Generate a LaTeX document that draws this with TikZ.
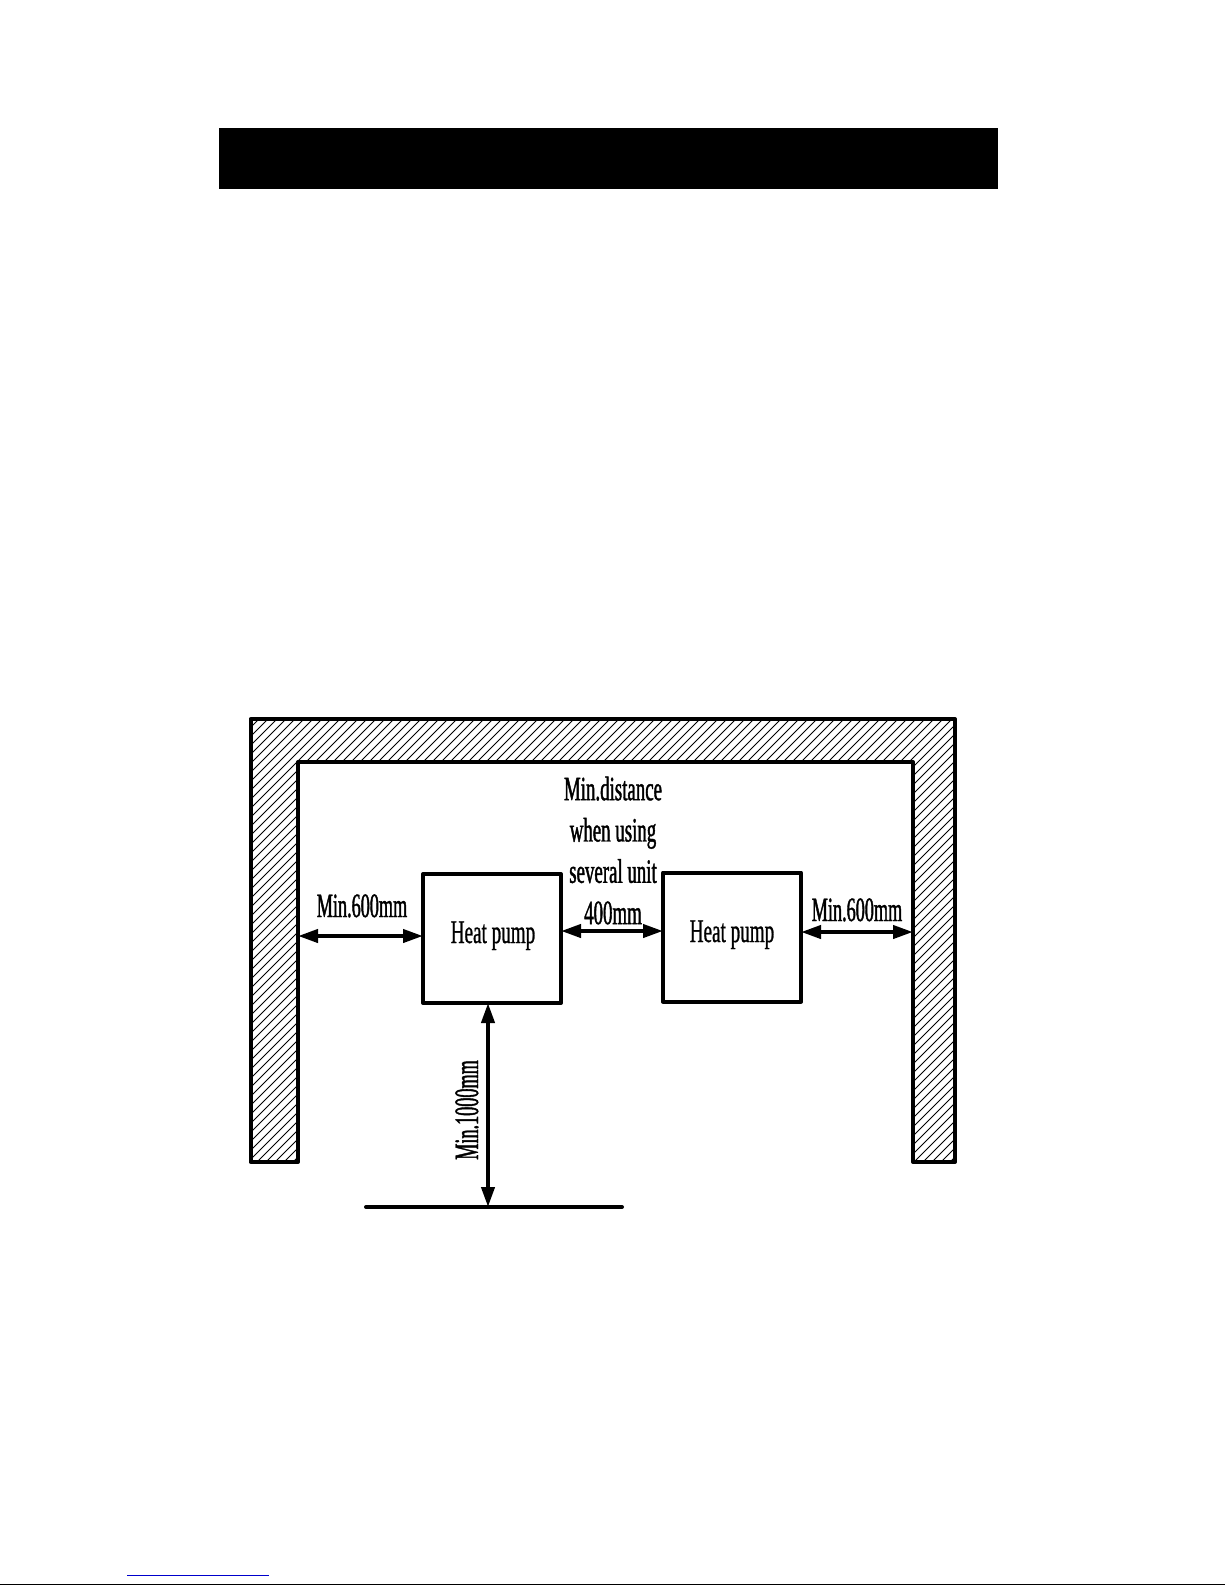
\documentclass[tikz,border=0pt]{standalone}
\usepackage{fontspec}
\usepackage{xcolor}
\setmainfont[FakeStretch=0.58,FakeBold=0.8]{Liberation Serif}
\newfontfamily\dimfont[FakeStretch=0.555,FakeBold=1.2]{Liberation Serif}
\newfontfamily\tightfont[FakeStretch=0.535,FakeBold=1.2]{Liberation Serif}
\usetikzlibrary{arrows.meta,positioning,calc}
\definecolor{linkblue}{RGB}{0,0,204}
\newcommand{\wallpath}{(250.5,1162) -- (250.5,719) -- (955,719) -- (955,1162) -- (913,1162) -- (913,762) -- (298,762) -- (298,1162) -- cycle}
\tikzset{
  wall/.style={line width=4pt, line join=round},
  hatchline/.style={line width=1pt},
  unit/.style={draw, line width=4pt, line join=round, minimum width=138pt, minimum height=129pt, inner sep=0pt, outer sep=0pt},
  unitname/.style={anchor=base, inner sep=0pt, font=\fontsize{33}{41}\selectfont},
  dim/.style={line width=4pt, {Triangle[length=20pt,width=13pt]}-{Triangle[length=20pt,width=13pt]}},
  lbl/.style={inner sep=0pt, align=center, font=\dimfont\fontsize{34}{41.3}\selectfont},
  tightlbl/.style={inner sep=0pt, anchor=base, font=\tightfont\fontsize{34}{41.3}\selectfont},
}
\begin{document}
\begin{tikzpicture}[x=1pt,y=-1pt]
\useasboundingbox (0,0) rectangle (1225,1585);
% header bar
\fill[black] (219,128) rectangle (998,189);
% walls
\begin{scope}
\clip \wallpath;
\foreach \c in {960,969,...,2120} \draw[hatchline] (\c,0) -- (0,\c);
\end{scope}
\draw[wall] \wallpath;
% units
\node[unit] (pump1) at (492,938.5) {};
\node[unit] (pump2) at (732,937) {};
\node[unitname] (name1) at (493,943) {Heat pump};
\node[unitname] (name2) at (732,942) {Heat pump};
% free ends
\coordinate (wallL) at (298,936);
\coordinate (wallR) at (913,932);
\coordinate (floorT) at (488,1207);
\coordinate (floorL) at (366,1207);
\coordinate (floorR) at (622,1207);
\coordinate (gapL) at (561,931);
% clearances
\draw[dim] (wallL) -- (wallL -| pump1.west);
\draw[dim] (gapL -| pump1.east) -- (gapL -| pump2.west);
\draw[dim] (wallR -| pump2.east) -- (wallR);
\draw[dim] (floorT |- pump1.south) -- (floorT);
\draw[line width=4pt, line cap=round] (floorL) -- (floorR);
% labels
\node[tightlbl] (minL) at (362,917) {Min.600mm};
\node[tightlbl] (minR) at (857,921) {Min.600mm};
\node[tightlbl, rotate=90] (minF) at (478,1110) {Min.1000mm};
\node[lbl] (minG) at (613,850.5) {Min.distance\\when using\\several unit\\400mm};
% page foot
\coordinate (footL) at (0,1584.5);
\coordinate (footR) at (1225,1584.5);
\coordinate (linkL) at (127,1575);
\coordinate (linkR) at (269,1575);
\draw[linkblue, line width=1pt] (linkL) -- (linkR);
\draw[black, line width=1pt] (footL) -- (footR);
\end{tikzpicture}
\end{document}
